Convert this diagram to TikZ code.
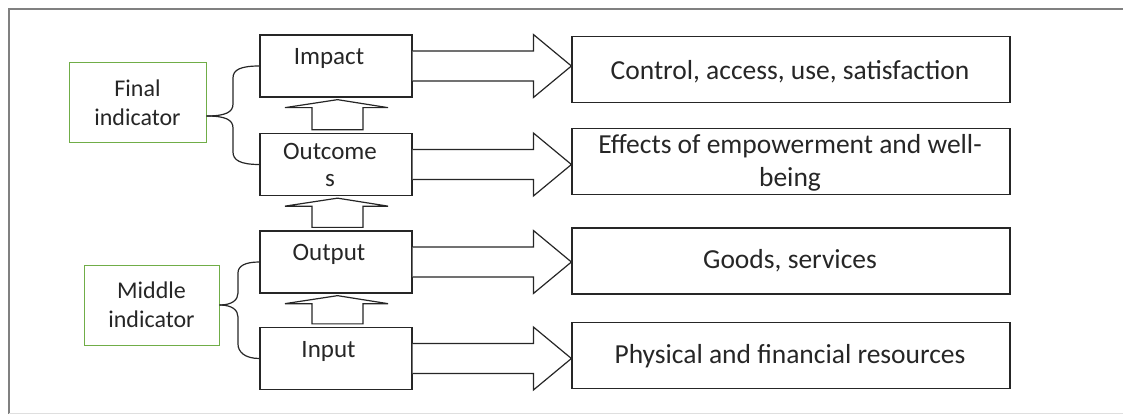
\documentclass[tikz,border=0pt]{standalone}
\usepackage{fontspec}
\setmainfont{Carlito}
\usetikzlibrary{calc}
\definecolor{ink}{HTML}{262626}
\definecolor{grn}{HTML}{70AD47}
\definecolor{frm}{HTML}{808080}
\newcommand\myuparrow[2]{\draw[blk] let \p1=(#1.north), \p2=(#2.south) in
 (\x1-24pt,\y1+3pt) -- (\x1-24pt,\y2-10pt) -- (\x1-51pt,\y2-10pt) -- (\x1+1.5pt,\y2-2pt) -- (\x1+52pt,\y2-10pt) -- (\x1+27pt,\y2-10pt) -- (\x1+27pt,\y1+3pt) -- cycle;}
\newcommand\myrarrow[2]{\draw[blk] let \p1=(#1.east), \p2=(#2.west) in
 (\x1,\y1+15pt) -- (\x2-38pt,\y1+15pt) -- (\x2-38pt,\y1+31.5pt) -- (\x2,\y1) -- (\x2-38pt,\y1-31.5pt) -- (\x2-38pt,\y1-15pt) -- (\x1,\y1-15pt);}
\begin{document}
\begin{tikzpicture}[x=1pt,y=-1pt,
 lvl/.style={draw=ink,line width=1.3pt,minimum width=152pt,minimum height=62pt,inner sep=0pt},
 res/.style={draw=ink,line width=1.2pt,minimum width=438pt,minimum height=66pt,inner sep=0pt},
 ind/.style={draw=grn,line width=1pt,inner sep=0pt,align=center,text=ink,font=\fontsize{24}{28.5}\selectfont},
 lbl/.style={inner sep=0pt,align=center,text=ink,font=\fontsize{25}{27}\selectfont},
 rtxt/.style={inner sep=0pt,align=center,text=ink,font=\fontsize{27.5}{33}\selectfont},
 blk/.style={draw=ink,line width=1.2pt,fill=white,line join=miter},
 brc/.style={draw=ink,line width=1.2pt}]
\useasboundingbox (0,0) rectangle (1123,414);
% frame
\draw[frm,line width=1.6pt] (9,414) -- (9,9) -- (1123,9);
\draw[gray!25,line width=1pt] (9,413) -- (1123,413);
% level boxes
\node[lvl] (imp) at (336,66) {};
\node[lvl] (out) at (336,164.5) {};
\node[lvl] (opt) at (336,262) {};
\node[lvl] (inp) at (336,358.5) {};
\node[lbl,anchor=base] (timp) at (329,65) {Impact};
\node[lbl] (tout) at (330,165) {Outcome\\s};
\node[lbl,anchor=base] (topt) at (329,260) {Output};
\node[lbl,anchor=base] (tinp) at (328.5,357) {Input};
% result boxes
\node[res] (r1) at (791,69.5) {};
\node[res] (r2) at (791,161.5) {};
\node[res] (r3) at (791,261) {};
\node[res] (r4) at (791,355.5) {};
\node[rtxt,anchor=base] (t1) at (790,80) {Control, access, use, satisfaction};
\node[rtxt] (t2) at (790,163) {Effects of empowerment and well-\\being};
\node[rtxt,anchor=base] (t3) at (790,268) {Goods, services};
\node[rtxt,anchor=base] (t4) at (790,363) {Physical and financial resources};
% indicator boxes
\node[ind,minimum width=137pt,minimum height=80pt] (fin) at (137.5,103) {Final\\indicator};
\node[ind,minimum width=135pt,minimum height=80pt] (mid) at (151.5,305) {Middle\\indicator};
% up arrows
\myuparrow{out}{imp}
\myuparrow{opt}{out}
\myuparrow{inp}{opt}
% right arrows
\myrarrow{imp}{r1}
\myrarrow{out}{r2}
\myrarrow{opt}{r3}
\myrarrow{inp}{r4}
% braces
\coordinate (fb) at ([yshift=-13pt]fin.east);
\draw[brc] (fb) .. controls (226,116) and (233,112) .. (233,104) -- (233,78) .. controls (233,70) and (240,66) .. (imp.west);
\draw[brc] (fb) .. controls (226,116) and (233,120) .. (233,128) -- (233,152) .. controls (233,160) and (240,164.5) .. (out.west);
\draw[brc] (mid.east) .. controls (232,305) and (238,300) .. (238,293) -- (238,273) .. controls (238,266) and (245,262) .. (opt.west);
\draw[brc] (mid.east) .. controls (232,305) and (238,310) .. (238,317) -- (238,344) .. controls (238,352) and (245,358.5) .. (inp.west);
\end{tikzpicture}
\end{document}
